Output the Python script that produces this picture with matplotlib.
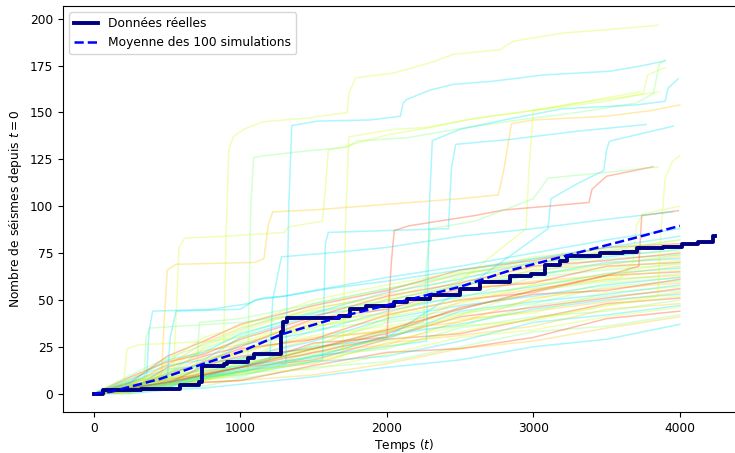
import numpy as np
import matplotlib
matplotlib.use('Agg')
import matplotlib.pyplot as plt

#Real data (time, cumulative count)
real_t = [0, 60, 320, 590, 715, 740, 890, 910, 1050, 1090, 1275, 1290, 1320, 1670, 1750, 1855,
          2045, 2137, 2297, 2500, 2637, 2842, 2985, 3080, 3182, 3228, 3455, 3612, 3705, 3885,
          4012, 4123, 4226, 4240]
real_n = [0, 2, 2.5, 4.5, 6, 15, 16, 17, 19, 21, 33, 38, 40.5, 41.5, 45, 47,
          49, 50.5, 52.7, 56, 59.5, 63, 64, 68.5, 71, 73.6, 74.8, 75.7, 77.5, 78.4,
          79.8, 81, 84, 84]

#Mean of the simulations
mean_t = [0, 116, 457, 750, 1000, 1275, 1683, 2092, 2500, 2842, 3318, 3680, 4000]
mean_n = [0, 1, 8, 16, 22.3, 31.5, 41, 49, 57, 65.8, 75.5, 82.8, 89.5]

#Simulations without big jumps, read on a common time grid
grid_t = [0, 250, 500, 750, 1000, 1500, 2000, 2500, 3000, 3500, 4000]
bundle = [
    [0, 0, 2, 3, 5, 9, 14, 18, 25, 29, 37],
    [0, 1, 2, 6, 7, 10, 16, 24, 28, 35, 41],
    [0, 2, 3, 4, 8, 14, 17, 25, 33, 36, 42],
    [0, 1, 5, 6, 7, 15, 22, 24, 30, 40, 44],
    [0, 3, 4, 7, 11, 13, 21, 30, 34, 41, 46],
    [0, 1, 3, 9, 10, 17, 20, 28, 38, 42, 47],
    [0, 2, 6, 7, 12, 16, 27, 31, 36, 45, 48],
    [0, 0, 4, 8, 9, 20, 24, 35, 41, 44, 50],
    [0, 4, 5, 10, 14, 18, 29, 32, 40, 48, 51],
    [0, 1, 7, 9, 13, 24, 28, 36, 39, 47, 52],
    [0, 2, 3, 12, 15, 19, 31, 37, 45, 50, 53],
    [0, 3, 8, 10, 11, 22, 26, 39, 44, 49, 54],
    [0, 1, 4, 8, 17, 21, 33, 36, 47, 52, 55],
    [0, 5, 7, 11, 14, 27, 30, 41, 46, 51, 56],
    [0, 2, 9, 13, 16, 23, 35, 40, 43, 54, 57],
    [0, 3, 6, 14, 18, 25, 29, 44, 49, 53, 58],
    [0, 1, 8, 10, 19, 29, 34, 38, 51, 56, 59],
    [0, 4, 10, 12, 15, 26, 38, 43, 48, 57, 60],
    [0, 2, 5, 15, 20, 24, 32, 46, 53, 55, 61],
    [0, 6, 9, 11, 22, 31, 36, 42, 50, 59, 62],
    [0, 3, 11, 16, 19, 28, 40, 47, 52, 58, 62],
    [0, 1, 7, 13, 23, 30, 33, 49, 56, 61, 63],
    [0, 5, 12, 14, 18, 34, 39, 45, 55, 60, 64],
    [0, 2, 10, 17, 24, 29, 42, 50, 54, 63, 65],
    [0, 4, 8, 18, 21, 36, 41, 48, 58, 62, 66],
    [0, 6, 13, 15, 26, 33, 44, 52, 57, 64, 67],
    [0, 3, 11, 19, 22, 38, 43, 55, 60, 63, 68],
    [0, 7, 9, 16, 27, 35, 46, 51, 62, 66, 69],
    [0, 2, 14, 20, 25, 40, 45, 56, 59, 68, 70],
    [0, 5, 12, 22, 28, 37, 48, 54, 64, 67, 71],
    [0, 8, 15, 18, 30, 42, 47, 58, 63, 70, 72],
    [0, 4, 16, 23, 26, 39, 50, 57, 66, 69, 73],
    [0, 6, 10, 24, 31, 44, 49, 60, 65, 72, 74],
    [0, 9, 17, 21, 29, 41, 52, 59, 68, 71, 75],
    [0, 3, 13, 25, 33, 46, 51, 62, 67, 74, 76],
    [0, 7, 18, 22, 32, 43, 54, 61, 70, 73, 77],
    [0, 5, 15, 27, 35, 45, 53, 64, 69, 76, 78],
    [0, 10, 19, 26, 34, 48, 56, 63, 72, 75, 79],
    [0, 6, 20, 28, 37, 47, 55, 66, 71, 78, 80],
    [0, 8, 17, 30, 36, 50, 58, 65, 73, 77, 82],
]

#Simulations with large jumps, (times, counts)
jump_t = [
    [0, 400, 700, 880, 900, 920, 950, 1022, 1150, 1456, 1729, 1740, 1786, 2044, 2296, 2453, 2773, 2863, 3203, 3475, 3850],
    [0, 500, 1000, 1310, 1330, 1350, 1525, 1887, 2092, 2110, 2137, 2296, 2453, 2727, 3066, 3523, 3727, 3900],
    [0, 600, 1050, 1070, 1090, 1172, 1456, 1729, 1797, 2137, 2546, 2900, 3300, 3700, 3820, 3860, 3900],
    [0, 300, 540, 560, 580, 620, 900, 1300, 1330, 1560, 1580, 1600, 1720, 2000, 2300, 2600, 2900, 3200, 3500, 3750, 3780, 3900],
    [0, 500, 1000, 1500, 1700, 1717, 1740, 2044, 2270, 2546, 2900, 3300, 3727],
    [0, 300, 460, 480, 500, 560, 1100, 1160, 1190, 1220, 1500, 2000, 2500, 2760, 2800, 2850, 3000, 3500, 3800, 4000],
    [0, 800, 1500, 2270, 2290, 2310, 2500, 2800, 3200, 3700, 3900, 3920, 3990],
    [0, 600, 1200, 1560, 1580, 1600, 2000, 2420, 2440, 2470, 2850, 3300, 3770],
    [0, 500, 1000, 1500, 2000, 2600, 3100, 3120, 3300, 3480, 3500, 3520, 3955],
    [0, 500, 1000, 1500, 2000, 2500, 2950, 2970, 3000, 3300, 3600, 3860],
    [0, 500, 1000, 1500, 2000, 2030, 2050, 2150, 2350, 2600, 2800, 3100, 3380, 3400, 3500, 3815],
    [0, 500, 1000, 1500, 2000, 2250, 2270, 2300, 2600, 3000, 3100, 3500, 3850],
    [0, 500, 1000, 1500, 2000, 2500, 3000, 3500, 3850, 3870, 3900, 3950, 4000],
    [0, 500, 1000, 1500, 2000, 2500, 3000, 3600, 3680, 3705, 3750, 4000],
    [0, 500, 1000, 1500, 2000, 2500, 3000, 3500, 3720, 3740, 3990],
    [0, 200, 360, 375, 400, 800, 1050, 1150, 1300, 1600, 2000, 2500, 3000, 3500, 4000],
    [0, 200, 225, 300, 800, 1000, 1500, 2000, 2500, 3000, 3500, 4000],
    [0, 340, 355, 380, 1000, 1500, 2000, 2500, 3000, 3500, 4000],
    [0, 300, 500, 520, 560, 1000, 1100, 1300, 1500, 2000, 2500, 3000, 3500, 4000],
    [0, 400, 700, 720, 1000, 1500, 2000, 2500, 3000, 3500, 4000],
    [0, 500, 900, 1200, 1220, 1280, 1600, 2000, 2500, 3000, 3500, 3950],
]
jump_n = [
    [0, 4, 7, 10, 80, 130, 137, 141, 145, 147, 150, 160, 168.5, 171, 176.5, 181, 183.5, 188, 192.4, 194, 196.5],
    [0, 5, 12, 16, 100, 143, 145.4, 146, 148, 155, 157, 162, 165, 166.7, 170, 172, 174.7, 177.5],
    [0, 6, 12, 100, 126, 127, 129.5, 131.4, 134.8, 136.5, 142, 146, 150, 155, 160, 176, 178],
    [0, 4, 8, 40, 78, 83, 84, 86, 89, 92, 110, 130, 132, 138, 142, 147, 150, 153, 156, 160, 170, 174],
    [0, 5, 11, 17, 20, 90, 137, 141, 142, 146, 150, 155, 161],
    [0, 4, 10, 40, 66, 69, 70, 72, 90, 97, 98, 101, 104, 106, 120, 144, 146, 148, 151, 154],
    [0, 10, 20, 28, 100, 135, 141, 146, 152, 154, 156, 163, 168],
    [0, 7, 14, 18, 80, 86, 87, 88, 120, 133, 135.7, 140, 143.6],
    [0, 4, 12, 20, 30, 60, 88, 104, 112, 119, 130, 134.7, 142.7],
    [0, 5, 14, 25, 40, 60, 88, 120, 151, 155, 158, 161],
    [0, 6, 14, 22, 30, 70, 87, 89.5, 92, 95, 98, 100, 102, 109, 116, 121],
    [0, 6, 15, 24, 33, 38, 70, 88, 92, 104, 115, 118, 121],
    [0, 4, 10, 18, 25, 33, 40, 47, 52, 86, 115, 124, 127],
    [0, 5, 12, 20, 30, 42, 55, 62, 70, 90, 96, 100],
    [0, 6, 14, 24, 34, 45, 55, 63, 68, 95, 97.6],
    [0, 4, 10, 33, 44, 45, 48, 51, 52, 56, 60, 66, 72, 78, 84],
    [0, 3, 24, 26, 28, 30, 36, 42, 50, 58, 64, 70],
    [0, 5, 30, 35, 38, 43, 50, 58, 63, 69, 74],
    [0, 5, 8, 30, 44, 45, 50, 52, 55, 62, 68, 75, 82, 88],
    [0, 6, 12, 38, 40, 48, 56, 64, 70, 76, 82],
    [0, 5, 12, 18, 50, 73, 75, 78, 84, 88, 93, 97],
]

plt.rcParams['font.size'] = 8.8

cmap = plt.cm.jet
cyan, mint, ygreen, yellow, salmon = [cmap(p) for p in [0.35, 0.5, 0.6, 0.7, 0.85]]
palette = [cyan, mint, ygreen, yellow, salmon]
jump_colors = [ygreen, cyan, mint, ygreen, ygreen, yellow, cyan, cyan, cyan, ygreen, salmon,
               mint, ygreen, ygreen, salmon, cyan, ygreen, mint, cyan, mint, cyan]

fig = plt.figure(figsize=(7.35, 4.53), dpi=100)
ax = fig.add_axes([63/735, 41/453, 683/735, 406/453])

for i, n in enumerate(bundle):
    ax.plot(grid_t, n, color=palette[(i * 3) % 5], alpha=0.32, lw=1.1)
for t, n, c in zip(jump_t, jump_n, jump_colors):
    ax.plot(t, n, color=c, alpha=0.32, lw=1.1)

ax.plot(real_t, real_n, drawstyle='steps-post', color='navy', lw=2.8, label='Données réelles')
ax.plot(mean_t, mean_n, 'b--', lw=1.8, label='Moyenne des 100 simulations')

ax.set_xlim(-212, 4452)
ax.set_ylim(-9.8, 206.8)
ax.set_xticks([0, 1000, 2000, 3000, 4000])
ax.set_yticks(np.arange(0, 201, 25))
ax.set_xlabel('Temps ($t$)', labelpad=1.5)
ax.set_ylabel('Nombre de séismes depuis $t = 0$')
ax.legend(loc='upper left')

fig.savefig('out.png', dpi=100)
